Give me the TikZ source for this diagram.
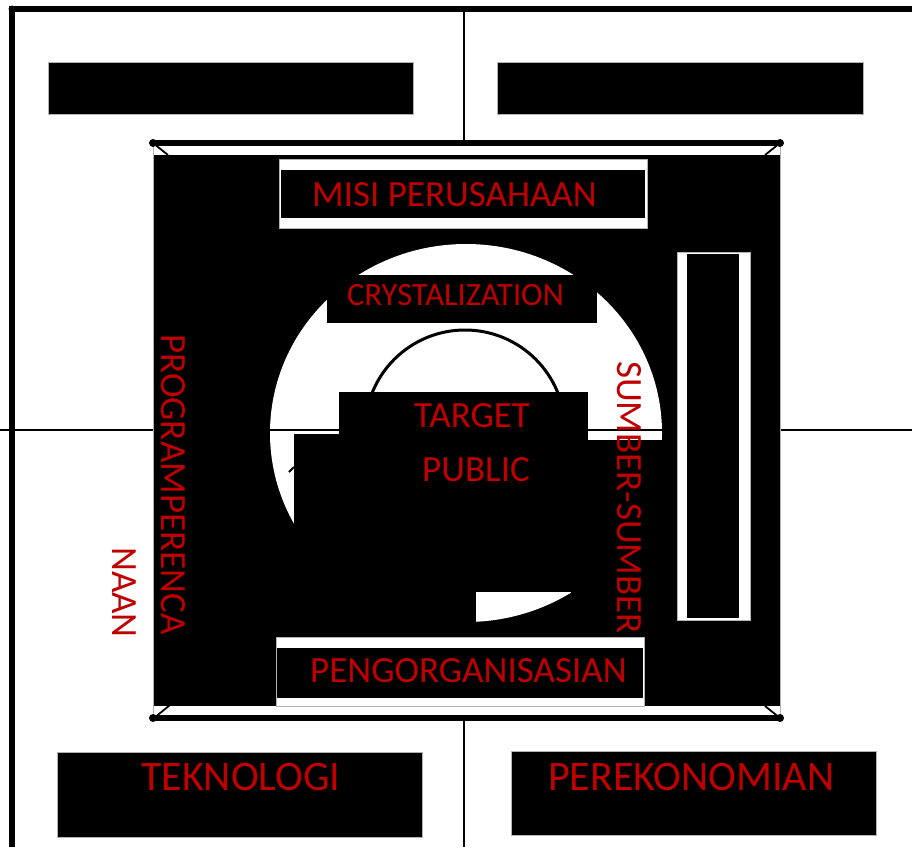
\documentclass[tikz,border=0pt]{standalone}
\usepackage{fontspec}
\setmainfont{Carlito}
\definecolor{txtred}{RGB}{192,0,0}
\begin{document}
\begin{tikzpicture}[x=1pt,y=-1pt,
  lbl/.style={text=txtred, font=\fontsize{37}{44}\selectfont, inner sep=0pt, anchor=base west},
  biglbl/.style={lbl, font=\fontsize{42}{50}\selectfont},
  blk/.style={fill=black, draw=gray!60, line width=0.7pt},
  wht/.style={fill=white, draw=gray!60, line width=0.7pt},
  heavy/.style={line width=5.5pt},
  hair/.style={line width=1.4pt},
  tick/.style={line width=1.8pt},
  cornerdot/.style={fill=black}
]
\useasboundingbox (0,0) rectangle (912,847);
\fill[white] (0,0) rectangle (912,847);

% background grid lines
\draw[hair] (464,9) -- (464,847);
\draw[hair] (0,430) -- (912,430);
% outer frame
\draw[heavy] (12,847) -- (12,9) -- (912,9);
\fill[cornerdot] (12,9) circle[radius=3.5pt];

% top boxes
\path[blk] (48,62) rectangle (413,114);
\path[blk] (497,62) rectangle (863,114);

% bottom boxes
\path[blk] (57,752) rectangle (422,837);
\path[blk] (511,751) rectangle (876,835);
\node[biglbl] (tek) at (141,790) {TEKNOLOGI};
\node[biglbl] (ekon) at (548,790) {PEREKONOMIAN};

% central square
\fill[white] (153,143) rectangle (780,718);
\fill[black] (153,155) rectangle (780,706);
\draw[gray!60, line width=1pt] (153,143) -- (153,718);
\draw[gray!60, line width=1pt] (780,143) -- (780,718);
\draw[heavy] (153,143) -- (780,143);
\draw[heavy] (153,718) -- (780,718);
\foreach \p in {(153,143),(780,143),(153,718),(780,718)}
  \fill[cornerdot] \p circle[radius=4pt];
\draw[tick] (153,143) -- (168,155);
\draw[tick] (780,143) -- (765,155);
\draw[tick] (154,718) -- (170,705);
\draw[tick] (780,718) -- (765,706);

% white ellipse
\fill[white] (466,433) ellipse [x radius=196pt, y radius=189pt];
\draw[hair] (262,430) -- (670,430);
% inner arc
\draw[line width=3pt] (465,430) circle[radius=100pt];

% black blocks over the ellipse
\fill[black] (327,275) rectangle (597,323);
\fill[black] (339,392) rectangle (588,592);
\fill[black] (294,434) rectangle (476,640);
\fill[black] (571,440) rectangle (672,640);
\draw[tick] (289,472) -- (294,467);

% right vertical frame
\path[wht] (677,252) rectangle (750,620);
\fill[black] (687,254) rectangle (739,618);

% MISI frame
\path[wht] (279,159) rectangle (647,228);
\fill[black] (281,170) rectangle (645,218);

% PENGORGANISASIAN frame
\path[wht] (276,637) rectangle (644,706);
\fill[black] (277,648) rectangle (643,698);

% labels
\node[lbl] (misi) at (312,206) {MISI PERUSAHAAN};
\node[lbl, font=\fontsize{32.5}{39}\selectfont] (crys) at (347,305) {CRYSTALIZATION};
\node[lbl] (target) at (414,427) {TARGET};
\node[lbl] (public) at (422,481) {PUBLIC};
\node[lbl] (organ) at (310,682) {PENGORGANISASIAN};
\node[lbl, rotate=-90] (sumber) at (617,361) {SUMBER-SUMBER};
\node[lbl, rotate=-90] (program) at (161,334) {PROGRAMPERENCA};
\node[lbl, rotate=-90] (naan) at (112,547) {NAAN};
\end{tikzpicture}
\end{document}
